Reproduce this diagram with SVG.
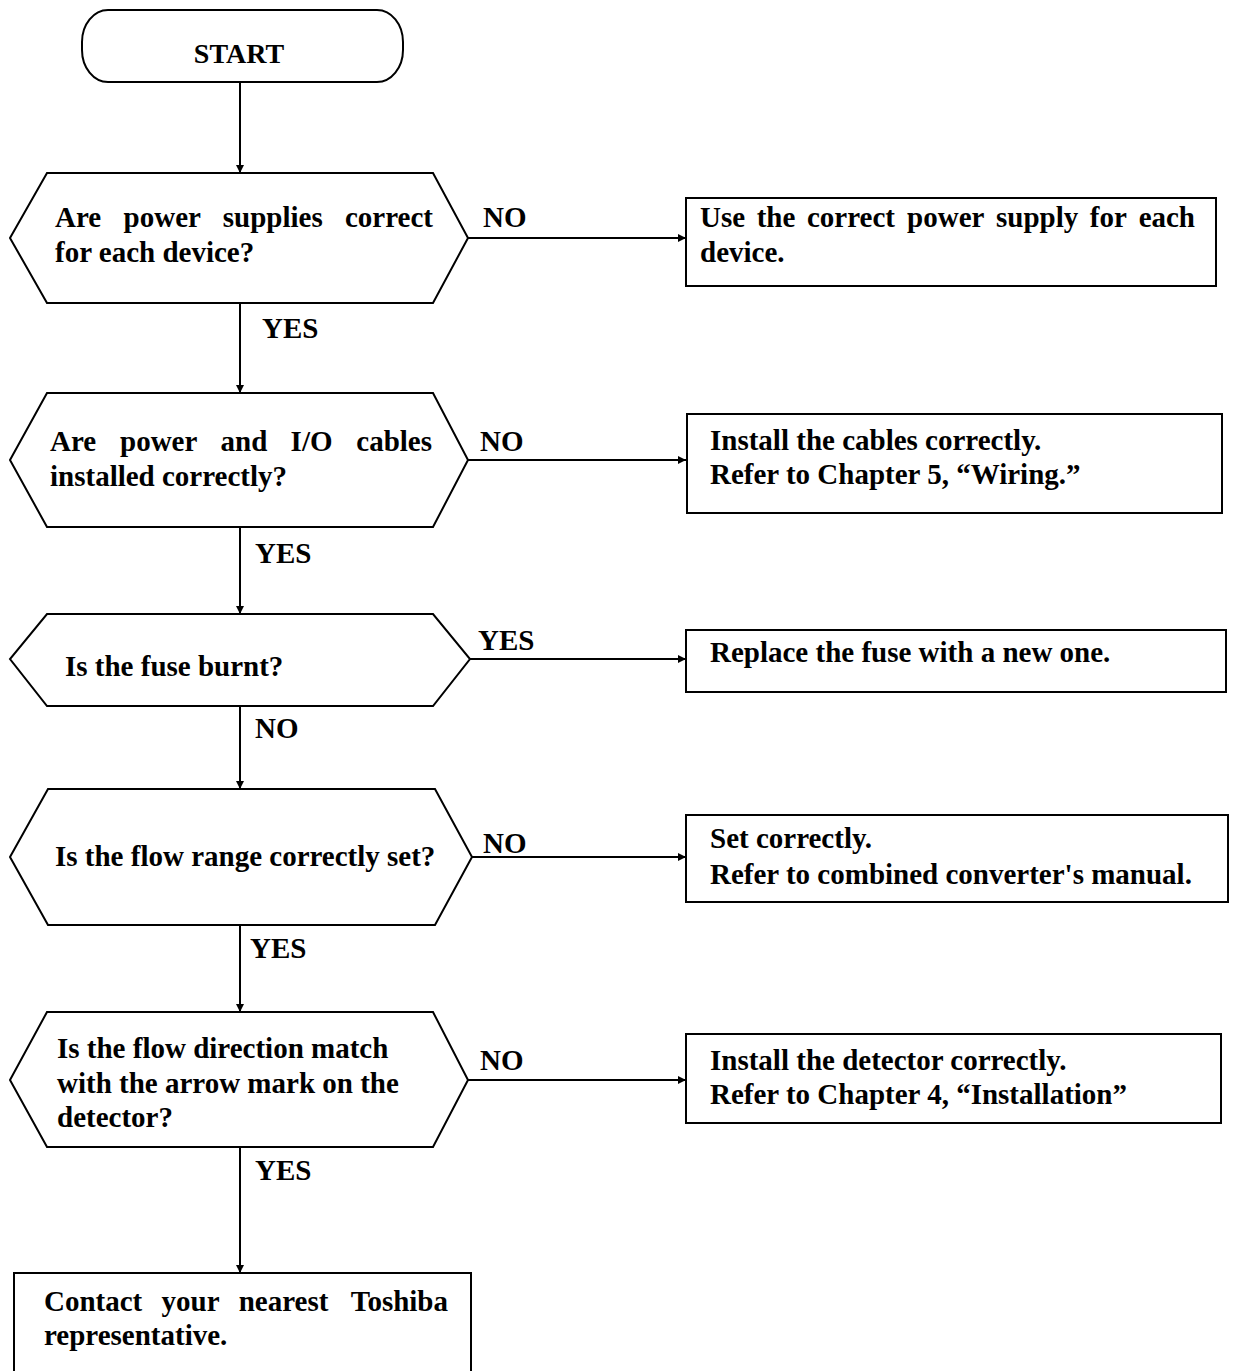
<svg xmlns="http://www.w3.org/2000/svg" width="1233" height="1371" viewBox="0 0 1233 1371">
<style>
  .shape { fill: #fff; stroke: #000; stroke-width: 2; }
  .conn { stroke: #000; stroke-width: 2; fill: none; }
  text { font-family: "Liberation Serif", "Times New Roman", serif; font-weight: bold; font-size: 29px; fill: #000; }
  .mid { text-anchor: middle; }
</style>
<defs>
  <marker id="arr" viewBox="0 0 10 10" refX="10" refY="5" markerWidth="10" markerHeight="8" markerUnits="userSpaceOnUse" orient="auto">
    <path d="M0,0 L10,5 L0,10 Z" fill="#000"/>
  </marker>
</defs>
<rect width="1233" height="1371" fill="#fff"/>

<g id="connectors">
  <line class="conn" x1="240" y1="83" x2="240" y2="173" marker-end="url(#arr)"/>
  <line class="conn" x1="468" y1="238" x2="686" y2="238" marker-end="url(#arr)"/>
  <line class="conn" x1="240" y1="303" x2="240" y2="393" marker-end="url(#arr)"/>
  <line class="conn" x1="468" y1="460" x2="686" y2="460" marker-end="url(#arr)"/>
  <line class="conn" x1="240" y1="527" x2="240" y2="614" marker-end="url(#arr)"/>
  <line class="conn" x1="470" y1="659" x2="686" y2="659" marker-end="url(#arr)"/>
  <line class="conn" x1="240" y1="706" x2="240" y2="789" marker-end="url(#arr)"/>
  <line class="conn" x1="472" y1="857" x2="686" y2="857" marker-end="url(#arr)"/>
  <line class="conn" x1="240" y1="925" x2="240" y2="1012" marker-end="url(#arr)"/>
  <line class="conn" x1="468" y1="1080" x2="686" y2="1080" marker-end="url(#arr)"/>
  <line class="conn" x1="240" y1="1147" x2="240" y2="1273" marker-end="url(#arr)"/>
  <text x="483" y="227">NO</text>
  <text x="262" y="338">YES</text>
  <text x="480" y="451">NO</text>
  <text x="255" y="563">YES</text>
  <text x="478" y="650">YES</text>
  <text x="255" y="738">NO</text>
  <text x="483" y="853">NO</text>
  <text x="250" y="958">YES</text>
  <text x="480" y="1070">NO</text>
  <text x="255" y="1180">YES</text>
</g>

<g id="start">
  <rect class="shape" x="82" y="10" width="321" height="72" rx="26" ry="32"/>
  <text class="mid" x="239" y="63" style="font-size:28px">START</text>
</g>

<g id="q-power">
  <polygon class="shape" points="47,173 433,173 468,238 433,303 47,303 10,238"/>
  <text y="227"><tspan x="55">Are</tspan><tspan x="123.6">power</tspan><tspan x="222.8">supplies</tspan><tspan x="433" text-anchor="end">correct</tspan></text>
  <text x="55" y="262">for each device?</text>
</g>

<g id="a-power">
  <rect class="shape" x="686" y="198" width="530" height="88"/>
  <text y="227"><tspan x="700">Use</tspan><tspan x="756.7">the</tspan><tspan x="807">correct</tspan><tspan x="907.1">power</tspan><tspan x="996">supply</tspan><tspan x="1089.8">for</tspan><tspan x="1195" text-anchor="end">each</tspan></text>
  <text x="700" y="262">device.</text>
</g>

<g id="q-cables">
  <polygon class="shape" points="47,393 433,393 468,460 433,527 47,527 10,460"/>
  <text y="451"><tspan x="50">Are</tspan><tspan x="120">power</tspan><tspan x="220.6">and</tspan><tspan x="290.6">I/O</tspan><tspan x="432" text-anchor="end">cables</tspan></text>
  <text x="50" y="486">installed correctly?</text>
</g>

<g id="a-cables">
  <rect class="shape" x="687" y="414" width="535" height="99"/>
  <text x="710" y="450">Install the cables correctly.</text>
  <text x="710" y="484">Refer to Chapter 5, “Wiring.”</text>
</g>

<g id="q-fuse">
  <polygon class="shape" points="47,614 433,614 470,659 433,706 47,706 10,659"/>
  <text x="65" y="676">Is the fuse burnt?</text>
</g>

<g id="a-fuse">
  <rect class="shape" x="686" y="630" width="540" height="62"/>
  <text x="710" y="662">Replace the fuse with a new one.</text>
</g>

<g id="q-range">
  <polygon class="shape" points="48,789 435,789 472,857 435,925 48,925 10,857"/>
  <text x="55" y="866">Is the flow range correctly set?</text>
</g>

<g id="a-range">
  <rect class="shape" x="686" y="815" width="542" height="87"/>
  <text x="710" y="848">Set correctly.</text>
  <text x="710" y="884">Refer to combined converter's manual.</text>
</g>

<g id="q-direction">
  <polygon class="shape" points="47,1012 433,1012 468,1080 433,1147 47,1147 10,1080"/>
  <text x="57" y="1058">Is the flow direction match</text>
  <text x="57" y="1093">with the arrow mark on the</text>
  <text x="57" y="1127">detector?</text>
</g>

<g id="a-direction">
  <rect class="shape" x="686" y="1034" width="535" height="89"/>
  <text x="710" y="1070">Install the detector correctly.</text>
  <text x="710" y="1104">Refer to Chapter 4, “Installation”</text>
</g>

<g id="contact">
  <rect class="shape" x="14" y="1273" width="457" height="110"/>
  <text y="1311"><tspan x="44">Contact</tspan><tspan x="161.5">your</tspan><tspan x="238.7">nearest</tspan><tspan x="448" text-anchor="end">Toshiba</tspan></text>
  <text x="44" y="1345">representative.</text>
</g>
</svg>
